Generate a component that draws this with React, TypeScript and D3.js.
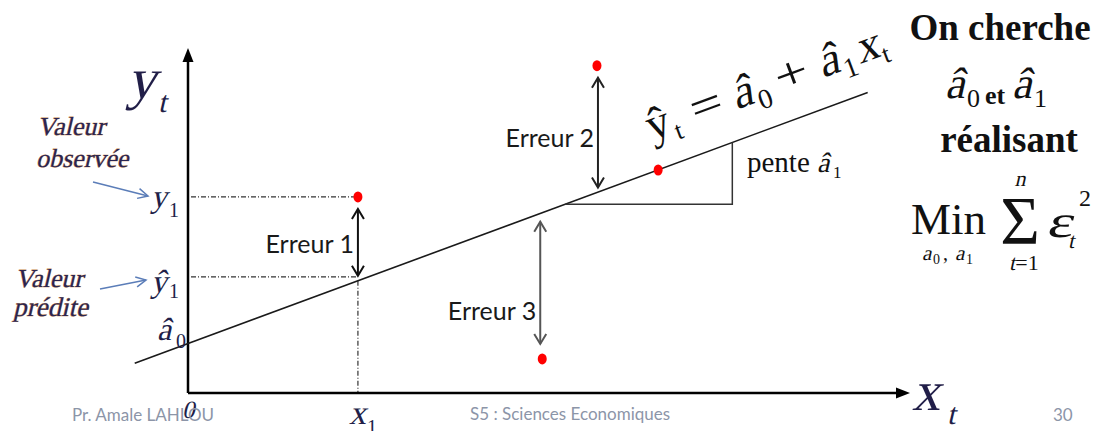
import React from "react";
import * as d3 from "d3";

// Fitted regression line  ŷt = â0 + â1·xt
const A0 = 14.5;
const A1 = 0.78;
const LINE_X = [-7.4, 94.4];

// Observed points (x, y); the last one lies on the line
const obsX = [23.6, 56.8, 49.2, 65.3];
const obsY = [57.5, 96.0, 10.0, 65.4];

// Residual annotations: which observation each error refers to
const errorLabels = ["Erreur 1", "Erreur 2", "Erreur 3"];
const errorIndex = [0, 1, 2];
const errorLabelY = [41.1, 72.1, 21.4];
const errorColors = ["#111", "#222", "#555"];

// Slope triangle span along x
const SLOPE_X = [52.4, 75.6];

const W = 1098;
const H = 431;

const x = d3.scaleLinear().domain([0, 100]).range([188, 908]);
const y = d3.scaleLinear().domain([0, 100]).range([393, 52]);
const fit = (v: number) => A0 + A1 * v;

const SERIF = "Liberation Serif";
const SANS = "Lato, 'Open Sans', sans-serif";
const NAVY = "#211e48";
const SLANT = -13;

function chevron(tx: number, ty: number, dx: number, dy: number, len = 10, half = 6) {
  const n = Math.hypot(dx, dy);
  const ux = dx / n, uy = dy / n;
  const bx = tx - ux * len, by = ty - uy * len;
  const px = -uy, py = ux;
  return `M${bx + px * half},${by + py * half}L${tx},${ty}L${bx - px * half},${by - py * half}`;
}

function triangle(tx: number, ty: number, dx: number, dy: number, len = 14, half = 6) {
  const n = Math.hypot(dx, dy);
  const ux = dx / n, uy = dy / n;
  const bx = tx - ux * len, by = ty - uy * len;
  const px = -uy, py = ux;
  return `M${tx},${ty}L${bx + px * half},${by + py * half}L${bx - px * half},${by - py * half}Z`;
}

type TProps = {
  x: number;
  y: number;
  size: number;
  sx?: number;
  anchor?: string;
  children: React.ReactNode;
  fill?: string;
  style?: any;
};

// Slanted serif text (math italic)
function It(props: TProps) {
  const { x: tx, y: ty, size, sx = 1, anchor, children, fill, style } = props;
  return (
    <text
      transform={`translate(${tx},${ty}) skewX(${SLANT}) scale(${sx},1)`}
      fontFamily={SERIF}
      fontSize={size}
      textAnchor={anchor as any}
      fill={fill}
      style={style}
    >
      {children}
    </text>
  );
}

// Upright serif text, optionally widened
function Up(props: TProps) {
  const { x: tx, y: ty, size, sx = 1, anchor, children, fill, style } = props;
  return (
    <text
      transform={`translate(${tx},${ty}) scale(${sx},1)`}
      fontFamily={SERIF}
      fontSize={size}
      textAnchor={anchor as any}
      fill={fill}
      style={style}
    >
      {children}
    </text>
  );
}

export default function App() {
  const lineGen = d3.line<number>().x((d) => x(d)).y((d) => y(fit(d)));
  const linePath = lineGen(LINE_X) as string;

  const x0 = x(0), y0 = y(0);
  const yTop = y(100) - 4;
  const xEnd = x(100) + 2;

  const px1 = x(obsX[0]);
  const py1 = y(obsY[0]);
  const pyhat1 = y(fit(obsX[0]));

  const sx0 = x(SLOPE_X[0]);
  const sx1 = x(SLOPE_X[1]);
  const sy0 = y(fit(SLOPE_X[0]));
  const sy1 = y(fit(SLOPE_X[1]));

  const angle = (Math.atan2(y(fit(100)) - y(fit(0)), x(100) - x(0)) * 180) / Math.PI;

  const halo = { stroke: "#c98a4e", strokeWidth: 0.7, paintOrder: "stroke" as const };

  return (
    <svg
      width={W}
      height={H}
      style={{ position: "absolute", left: 0, top: 0, background: "#fff" }}
    >
      {/* guide lines for observation 1 */}
      <g stroke="#333" strokeWidth={1.2} strokeDasharray="5,2,1,2" fill="none">
        <line x1={x0 + 3} y1={py1} x2={px1 - 4} y2={py1} />
        <line x1={x0 + 3} y1={pyhat1 - 4} x2={px1} y2={pyhat1 - 4} />
        <line x1={px1} y1={pyhat1} x2={px1} y2={y0} />
      </g>

      {/* axes */}
      <g stroke="#000" strokeWidth={2.5} fill="#000">
        <line x1={x0} y1={y0} x2={x0} y2={yTop + 10} />
        <path d={triangle(x0, yTop, 0, -1, 14, 5.5)} strokeWidth={0} />
        <line x1={x0} y1={y0} x2={xEnd - 10} y2={y0} />
        <path d={triangle(xEnd, y0, 1, 0, 14, 5.5)} strokeWidth={0} />
      </g>

      {/* regression line */}
      <path d={linePath} stroke="#1a1a1a" strokeWidth={1.6} fill="none" />

      {/* slope triangle */}
      <path
        d={`M${sx0},${sy0}L${sx1},${sy0}L${sx1},${sy1}`}
        stroke="#333"
        strokeWidth={1.5}
        fill="none"
      />

      {/* residual arrows */}
      {errorIndex.map((i, k) => {
        const cx = x(obsX[i]) + (k === 2 ? -2 : k === 1 ? 1 : 0);
        const pObs = y(obsY[i]);
        const pFit = y(fit(obsX[i]));
        const up = pObs < pFit;
        const a = up ? pObs + 12 : pFit + 9;
        const b = up ? pFit - 5 : pObs - 15;
        const c = errorColors[k];
        return (
          <g key={k} stroke={c} strokeWidth={2} fill="none">
            <line x1={cx} y1={a} x2={cx} y2={b} />
            <path d={chevron(cx, a, 0, -1, 10, 6)} />
            <path d={chevron(cx, b, 0, 1, 10, 6)} />
            <text
              x={cx - 4}
              y={y(errorLabelY[k])}
              textAnchor="end"
              fontFamily={SANS}
              fontSize={25}
              fill="#1a1a1a"
              stroke="none"
            >
              {errorLabels[k]}
            </text>
          </g>
        );
      })}

      {/* observations */}
      {obsX.map((v, i) => (
        <ellipse key={i} cx={x(v)} cy={y(obsY[i])} rx={4.5} ry={5.5} fill="#ff0000" />
      ))}

      {/* axis titles */}
      <g fill={NAVY}>
        <It x={127} y={98} size={58}>y</It>
        <It x={158} y={112} size={30}>t</It>
        <It x={912} y={410} size={56}>x</It>
        <It x={947} y={424} size={30}>t</It>
        <It x={182} y={418} size={25}>0</It>
        <It x={349} y={424} size={34}>x</It>
        <Up x={367} y={434} size={20}>1</Up>
      </g>

      {/* value labels on the y axis */}
      <g fill={NAVY}>
        <It x={151} y={207} size={32}>y</It>
        <Up x={169} y={217} size={20}>1</Up>
        <It x={151} y={292} size={32}>ŷ</It>
        <Up x={169} y={298} size={20}>1</Up>
        <It x={157} y={340} size={32}>â</It>
        <Up x={176} y={348} size={20}>0</Up>
      </g>

      {/* side notes */}
      <g fill="#2a2552">
        <It x={37} y={135} size={26} style={halo}>Valeur</It>
        <It x={36} y={167} size={26} style={halo}>observée</It>
        <It x={15} y={287} size={26} style={halo}>Valeur</It>
        <It x={13} y={316} size={27} style={halo}>prédite</It>
      </g>
      <g stroke="#5b7db8" strokeWidth={1.5} fill="none">
        <line x1={93} y1={182} x2={148} y2={196} />
        <path d={chevron(148, 196, 55, 14, 10, 5)} />
        <line x1={100} y1={289} x2={146} y2={280} />
        <path d={chevron(146, 280, 46, -9, 10, 5)} />
      </g>

      {/* equation along the fitted line */}
      <g transform={`translate(652,141) rotate(${angle})`} fill="#111">
        <Up x={0} y={0} size={46}>ŷ</Up>
        <Up x={25} y={8} size={26}>t</Up>
        <Up x={47} y={0} size={46} sx={1.25}>=</Up>
        <It x={90} y={0} size={46}>â</It>
        <Up x={114} y={9} size={28}>0</Up>
        <Up x={137} y={0} size={46} sx={1.3}>+</Up>
        <It x={182} y={0} size={46}>â</It>
        <Up x={205} y={9} size={28}>1</Up>
        <It x={222} y={0} size={46}>x</It>
        <Up x={246} y={8} size={26}>t</Up>
      </g>

      {/* slope label */}
      <g fill="#111">
        <Up x={747} y={172} size={29}>pente</Up>
        <It x={817} y={172} size={28}>â</It>
        <Up x={833} y={178} size={17}>1</Up>
      </g>

      {/* least squares objective */}
      <g fontFamily={SERIF} fill="#111">
        <text x={1000} y={40} fontSize={37} fontWeight="bold" textAnchor="middle">On cherche</text>
        <It x={945} y={98} size={44} fill="#111">â</It>
        <text x={967} y={107} fontSize={26}>0</text>
        <text x={985} y={104} fontSize={26} fontWeight="bold">et</text>
        <It x={1012} y={98} size={44} fill="#111">â</It>
        <text x={1034} y={107} fontSize={26}>1</text>
        <text x={1009} y={152} fontSize={37} fontWeight="bold" textAnchor="middle">réalisant</text>

        <text x={911} y={234} fontSize={45}>Min</text>
        <It x={922} y={260} size={21} fill="#111">a</It>
        <text x={933} y={264} fontSize={14}>0</text>
        <text x={943} y={260} fontSize={20}>,</text>
        <It x={955} y={260} size={21} fill="#111">a</It>
        <text x={966} y={264} fontSize={14}>1</text>

        <text x={1020} y={243} fontSize={68} textAnchor="middle">Σ</text>
        <It x={1020} y={186} size={22} anchor="middle" fill="#111">n</It>
        <It x={1012} y={270} size={22} anchor="middle" fill="#111">t</It>
        <text x={1027} y={270} fontSize={22} textAnchor="middle">=1</text>
        <It x={1046} y={237} size={46} sx={1.35} fill="#111">ε</It>
        <It x={1068} y={248} size={22} fill="#111">t</It>
        <text x={1079} y={206} fontSize={24}>2</text>
      </g>

      {/* footer */}
      <g fontFamily={SANS} fontSize={17} fill="#8c95a8">
        <text x={72} y={421}>Pr. Amale LAHLOU</text>
        <text x={470} y={420}>S5 : Sciences Economiques</text>
        <text x={1053} y={421}>30</text>
      </g>
    </svg>
  );
}
